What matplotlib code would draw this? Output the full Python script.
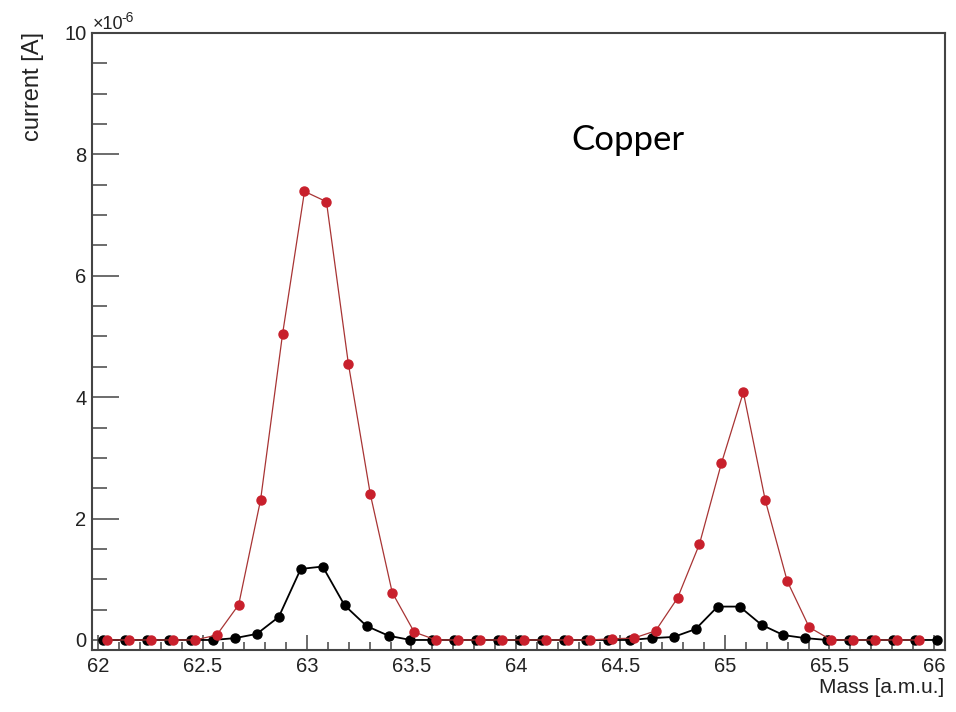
import matplotlib
matplotlib.use('Agg')
import matplotlib.pyplot as plt
from matplotlib.ticker import MultipleLocator

plt.rcParams['font.family'] = ['Liberation Sans', 'DejaVu Sans']

# scan positions [a.m.u.] and ion current [1e-6 A]
mass_black = [62.025, 62.13, 62.235, 62.34, 62.445, 62.55, 62.655, 62.76, 62.865, 62.97,
              63.075, 63.18, 63.285, 63.39, 63.495, 63.6, 63.705, 63.81, 63.915, 64.02,
              64.125, 64.23, 64.335, 64.44, 64.545, 64.65, 64.755, 64.86, 64.965, 65.07,
              65.175, 65.28, 65.385, 65.49, 65.595, 65.7, 65.805, 65.91, 66.015]
cur_black = [0, 0, 0, 0, 0, 0, 0.03, 0.10, 0.38, 1.17,
             1.21, 0.57, 0.23, 0.07, 0.0, 0, 0, 0, 0, 0,
             0, 0, 0, 0, 0, 0.03, 0.05, 0.18, 0.55, 0.55,
             0.25, 0.08, 0.03, 0, 0, 0, 0, 0, 0]

mass_red = [62.043, 62.148, 62.253, 62.358, 62.463, 62.568, 62.673, 62.778, 62.883, 62.988,
            63.093, 63.198, 63.303, 63.408, 63.513, 63.618, 63.723, 63.828, 63.933, 64.038,
            64.143, 64.248, 64.353, 64.458, 64.563, 64.668, 64.773, 64.878, 64.983, 65.088,
            65.193, 65.298, 65.403, 65.508, 65.613, 65.718, 65.823, 65.928]
cur_red = [0, 0, 0, 0, 0, 0.08, 0.58, 2.31, 5.04, 7.39,
           7.22, 4.55, 2.40, 0.78, 0.13, 0, 0, 0, 0, 0,
           0, 0, 0, 0.02, 0.03, 0.15, 0.69, 1.58, 2.91, 4.08,
           2.30, 0.97, 0.21, 0, 0, 0, 0, 0]

fig = plt.figure(figsize=(9.56, 7.12), dpi=100)
ax = fig.add_axes([0.0962, 0.0871, 0.8923, 0.8666])

ax.plot(mass_black, cur_black, color='black', lw=1.3, marker='o', ms=6.5, zorder=3)
ax.plot(mass_red, cur_red, color='#a83434', lw=0.9, marker='o', ms=6.5,
        mfc='#c8202c', mec='#c8202c', zorder=4)

ax.set_xlim(61.971, 66.053)
ax.set_ylim(-0.165, 10.0)

ax.xaxis.set_major_locator(MultipleLocator(0.5))
ax.xaxis.set_minor_locator(MultipleLocator(0.1))
ax.yaxis.set_major_locator(MultipleLocator(2))
ax.yaxis.set_minor_locator(MultipleLocator(0.5))
ax.xaxis.set_major_formatter(plt.FuncFormatter(lambda v, p: f'{v:g}'))
ax.yaxis.set_major_formatter(plt.FuncFormatter(lambda v, p: f'{v:g}'))

ax.tick_params(axis='both', which='both', direction='in', color='#444444', width=1.1,
               top=False, right=False, labelsize=14.5, labelcolor='#222222')
ax.tick_params(axis='x', which='major', length=10.8, pad=5)
ax.tick_params(axis='x', which='minor', length=5.8)
ax.tick_params(axis='y', which='major', length=19.4, pad=4)
ax.tick_params(axis='y', which='minor', length=10.8)

for s in ax.spines.values():
    s.set_color('#444444')
    s.set_linewidth(1.5)

fig.text(944 / 956, 1 - 678 / 712, 'Mass [a.m.u.]', ha='right', va='top',
         fontsize=15, color='#222222')
fig.text(33 / 956, 1 - 32 / 712, 'current [A]', rotation=90, ha='center', va='top',
         fontsize=17, color='#222222')
# exponent of the y scale, drawn ROOT-style above the axis
fig.text(93 / 956, 1 - 33 / 712, '\u00d710', ha='left', va='bottom',
         fontsize=13, color='#222222')
fig.text(121 / 956, 1 - 25 / 712, '-6', ha='left', va='bottom',
         fontsize=10, color='#222222')

fig.text(628 / 956, 1 - 140 / 712, 'Copper', ha='center', va='center',
         fontsize=25, color='black', family=['Lato', 'DejaVu Sans'])

fig.savefig('out.png', dpi=100)
